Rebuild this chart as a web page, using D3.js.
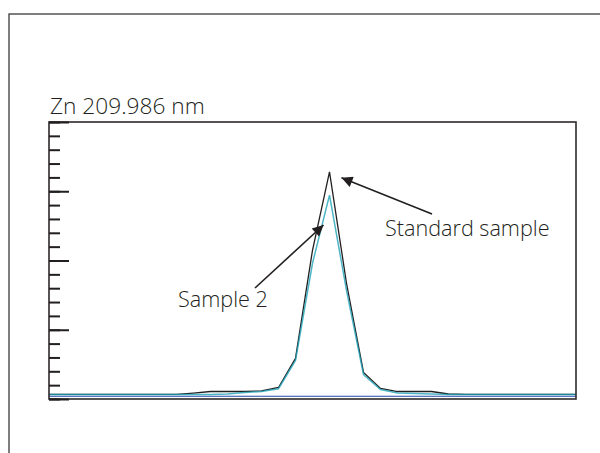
<!DOCTYPE html>
<html>
<head>
<meta charset="utf-8">
<script src="https://cdn.jsdelivr.net/npm/d3@7"></script>
<style>
  html, body { margin: 0; padding: 0; background: #fff; }
  svg { display: block; }
  text { font-family: "Open Sans", "Noto Sans", sans-serif; fill: #231f20; }
</style>
</head>
<body>
<script>
// ---- data ----
const title = "Zn 209.986 nm";
// channel offsets around the line centre (pixel steps)
const offsets = [-17,-16,-15,-14,-13,-12,-11,-10,-9,-8,-7,-6,-5,-4,-3,-2,-1,0,1,2,3,4,5,6,7,8,9,10,11,12,13,14,15];
const standardSample = [0.33,0.33,0.33,0.33,0.33,0.33,0.33,0.33,0.33,0.43,0.54,0.54,0.54,0.58,0.83,2.93,10.74,16.4,8.35,1.92,0.76,0.54,0.54,0.54,0.36,0.33,0.33,0.33,0.33,0.33,0.33,0.33,0.33];
const sample2 =        [0.33,0.33,0.33,0.33,0.33,0.33,0.33,0.33,0.33,0.33,0.33,0.36,0.47,0.54,0.74,2.78,9.8,14.72,7.85,1.77,0.69,0.43,0.40,0.36,0.33,0.33,0.33,0.33,0.33,0.33,0.33,0.33,0.33];
const blank =          [0.2,0.2,0.2,0.2,0.2,0.2,0.2,0.2,0.2,0.2,0.2,0.2,0.2,0.2,0.2,0.2,0.2,0.2,0.2,0.2,0.2,0.2,0.2,0.2,0.2,0.2,0.2,0.2,0.2,0.2,0.2,0.2,0.2];
const yMajorTicks = [0, 5, 10, 15, 20];
const yMinorTicks = d3.range(0, 21, 1);
const annotations = [
  { label: "Standard sample", series: "standard", at: 0 },
  { label: "Sample 2", series: "sample2", at: -1 }
];

// ---- layout ----
const W = 600, H = 453;
const plot = { left: 49, top: 122, right: 576, bottom: 399 };

const svg = d3.select("body").append("svg").attr("width", W).attr("height", H);

// outer frame (extends past the page)
svg.append("rect")
  .attr("x", 9).attr("y", 14).attr("width", W + 20).attr("height", H + 20)
  .attr("fill", "none").attr("stroke", "#3a3a3a").attr("stroke-width", 1.3);

const x = d3.scaleLinear().domain([-16.5, 14.5]).range([plot.left, plot.right]);
const y = d3.scaleLinear().domain([0, 20]).range([plot.bottom, plot.top]);

svg.append("defs").append("clipPath").attr("id", "clip")
  .append("rect").attr("x", plot.left).attr("y", plot.top)
  .attr("width", plot.right - plot.left).attr("height", plot.bottom - plot.top);

// title
svg.append("text").attr("x", 50).attr("y", 113.5)
  .attr("font-size", 22.7).attr("font-weight", 300).text(title);

// series
const line = d3.line().x((d, i) => x(offsets[i])).y(d => y(d));
const g = svg.append("g").attr("clip-path", "url(#clip)");
g.append("path").datum(blank).attr("d", line)
  .attr("fill", "none").attr("stroke", "#2249a6").attr("stroke-width", 1.1);
g.append("path").datum(standardSample).attr("d", line)
  .attr("fill", "none").attr("stroke", "#231f20").attr("stroke-width", 1.3);
g.append("path").datum(sample2).attr("d", line)
  .attr("fill", "none").attr("stroke", "#1fa3b8").attr("stroke-width", 1.5).attr("opacity", 0.8);

// plot frame
svg.append("rect")
  .attr("x", plot.left).attr("y", plot.top)
  .attr("width", plot.right - plot.left).attr("height", plot.bottom - plot.top)
  .attr("fill", "none").attr("stroke", "#2e2a2b").attr("stroke-width", 1.6);

// y ticks (minor + major, no labels)
const axisMinor = d3.axisRight(y).tickValues(yMinorTicks).tickSize(11).tickFormat("");
const axisMajor = d3.axisRight(y).tickValues(yMajorTicks).tickSize(20).tickFormat("");
[axisMinor, axisMajor].forEach(ax => {
  const a = svg.append("g").attr("transform", `translate(${plot.left},0)`).call(ax);
  a.select(".domain").remove();
  a.selectAll(".tick line").attr("stroke", "#231f20").attr("stroke-width", 2);
});

// arrows
const defs = svg.select("defs");
defs.append("marker").attr("id", "arrow")
  .attr("viewBox", "0 0 10 10").attr("refX", 10).attr("refY", 5)
  .attr("markerWidth", 14).attr("markerHeight", 11).attr("markerUnits", "userSpaceOnUse")
  .attr("orient", "auto")
  .append("path").attr("d", "M0,0 L10,5 L0,10 Z").attr("fill", "#231f20");

// Standard sample: arrow to peak of standard
svg.append("line")
  .attr("x1", 432).attr("y1", 214)
  .attr("x2", x(annotations[0].at) + 12).attr("y2", y(standardSample[offsets.indexOf(annotations[0].at)]) + 6)
  .attr("stroke", "#231f20").attr("stroke-width", 1.6).attr("marker-end", "url(#arrow)");
svg.append("text").attr("x", 385).attr("y", 236)
  .attr("font-size", 21.6).attr("font-weight", 300).text(annotations[0].label);

// Sample 2: arrow to rising flank of sample 2
svg.append("line")
  .attr("x1", 255).attr("y1", 288)
  .attr("x2", 323.5).attr("y2", 225)
  .attr("stroke", "#231f20").attr("stroke-width", 1.6).attr("marker-end", "url(#arrow)");
svg.append("text").attr("x", 178).attr("y", 307)
  .attr("font-size", 21.6).attr("font-weight", 300).text(annotations[1].label);
</script>
</body>
</html>
